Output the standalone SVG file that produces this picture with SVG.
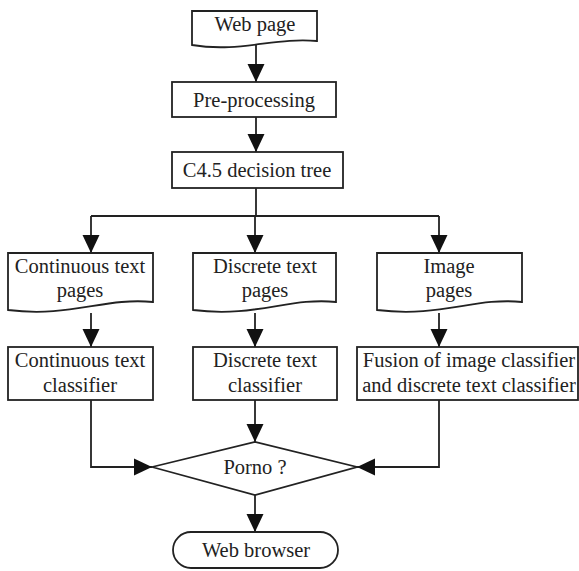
<svg xmlns="http://www.w3.org/2000/svg" width="579" height="571" viewBox="0 0 579 571">
<style>
.n{fill:#fff;stroke:#222;stroke-width:1.8}
.c{fill:none;stroke:#222;stroke-width:1.8}
text{font-family:'Liberation Serif','Times New Roman',Times,serif;font-size:20.5px;fill:#222;text-anchor:middle}
</style>
<defs>
<marker id="ah" markerUnits="userSpaceOnUse" markerWidth="19" markerHeight="19" viewBox="0 0 19 19" refX="18" refY="9.5" orient="auto">
<path d="M0,1 L18,9.5 L0,18 Z" fill="#111"/>
</marker>
</defs>
<rect width="579" height="571" fill="#fff"/>
<g id="connectors">
<path class="c" d="M256,44 V82" marker-end="url(#ah)"/>
<path class="c" d="M256,117 V152" marker-end="url(#ah)"/>
<path class="c" d="M256,188 V216"/>
<path class="c" d="M91,216 H439"/>
<path class="c" d="M91,216 V253" marker-end="url(#ah)"/>
<path class="c" d="M255,216 V253" marker-end="url(#ah)"/>
<path class="c" d="M439,216 V253" marker-end="url(#ah)"/>
<path class="c" d="M91,313 V347" marker-end="url(#ah)"/>
<path class="c" d="M255,313 V347" marker-end="url(#ah)"/>
<path class="c" d="M439,313 V347" marker-end="url(#ah)"/>
<path class="c" d="M91,400 V467 H152" marker-end="url(#ah)"/>
<path class="c" d="M255,400 V442" marker-end="url(#ah)"/>
<path class="c" d="M439,400 V467 H357" marker-end="url(#ah)"/>
<path class="c" d="M255,495 V532" marker-end="url(#ah)"/>
</g>
<g id="webpage">
<path class="n" d="M192,11 H317 V41 C275,37 240,53 192,45 Z"/>
<text x="255" y="31">Web page</text>
</g>
<g id="preprocessing">
<rect class="n" x="172" y="82" width="164" height="35"/>
<text x="254" y="107">Pre-processing</text>
</g>
<g id="c45">
<rect class="n" x="172" y="152" width="171" height="36"/>
<text x="257" y="177">C4.5 decision tree</text>
</g>
<g id="contpages">
<path class="n" d="M8,253 H153 V302 C105,297 70,318 8,310 Z"/>
<text x="80" y="273">Continuous text</text>
<text x="80" y="297">pages</text>
</g>
<g id="discpages">
<path class="n" d="M193,253 H336 V302 C290,297 255,318 193,310 Z"/>
<text x="265" y="273">Discrete text</text>
<text x="265" y="297">pages</text>
</g>
<g id="imgpages">
<path class="n" d="M377,253 H522 V302 C475,297 440,318 377,310 Z"/>
<text x="449" y="273">Image</text>
<text x="449" y="297">pages</text>
</g>
<g id="contclf">
<rect class="n" x="8" y="347" width="145" height="53"/>
<text x="80" y="367">Continuous text</text>
<text x="80" y="392">classifier</text>
</g>
<g id="discclf">
<rect class="n" x="193" y="347" width="144" height="53"/>
<text x="265" y="367">Discrete text</text>
<text x="265" y="392">classifier</text>
</g>
<g id="fusionclf">
<rect class="n" x="357" y="347" width="221" height="53"/>
<text x="469" y="367">Fusion of image classifier</text>
<text x="469" y="392">and discrete text classifier</text>
</g>
<g id="porno">
<path class="n" d="M152,467 L255,442 L357,467 L255,495 Z"/>
<text x="255" y="474">Porno ?</text>
</g>
<g id="browser">
<rect class="n" x="173" y="532" width="165" height="36" rx="18" ry="18"/>
<text x="256" y="557">Web browser</text>
</g>
</svg>
